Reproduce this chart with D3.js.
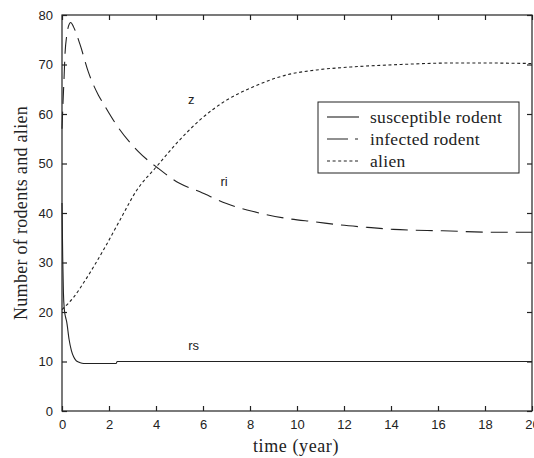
<!DOCTYPE html>
<html><head><meta charset="utf-8">
<script src="https://cdn.jsdelivr.net/npm/d3@7"></script>
<style>body{margin:0;background:#fff}svg{display:block}</style>
</head><body><svg id="c" width="534" height="458"></svg>
<script>
const xTicks = [0,2,4,6,8,10,12,14,16,18,20];
const yTicks = [0,10,20,30,40,50,60,70,80];
const rsTime = [0,0.03,0.06,0.1,0.15,0.2,0.3,0.4,0.5,0.6,0.7,0.85,1,1.5,2.3,2.35,3,5,8,12,16,20];
const rsVals = [42,31,24,20.5,19,18,14.5,12.2,10.9,10.2,9.9,9.65,9.6,9.6,9.6,10,10,10,10,10,10,10];
const riTime = [0,0.04,0.085,0.13,0.2,0.28,0.37,0.5,0.77,1.12,1.55,1.76,2.26,3.25,4.1,5,5.87,7,8.14,9.56,10.8,11.8,13,14.1,16.2,18.6,20];
const riVals = [57,62,67,72.3,75.8,77.8,78.5,77.5,74,68.5,63.8,62.1,58.2,52.4,49,46,44.3,41.9,40.3,38.9,38.2,37.6,37.1,36.7,36.4,36.1,36.1];
const zTime = [0,0.5,1,1.76,2.47,3.18,4.03,4.88,5.87,7,8.14,9.56,10.84,12.3,14.4,16.5,18,20];
const zVals = [20.5,23,26.5,32.5,38.6,44.6,49.4,54.1,58.8,62.8,65.5,67.9,68.9,69.5,70,70.3,70.3,70.2];
const seriesNames = ["susceptible rodent","infected rodent","alien"];
const curveLabels = ["rs","ri","z"];

const svg = d3.select("#c");
const L=62,R=532,T=15,B=411;
const x = d3.scaleLinear().domain([0,20]).range([L,R]);
const y = d3.scaleLinear().domain([0,80]).range([B,T]);
const ink="#222";
const g = svg.append("g");

g.append("rect").attr("x",L).attr("y",T).attr("width",R-L).attr("height",B-T)
 .attr("fill","none").attr("stroke",ink).attr("stroke-width",1.2);

const tickFont = "'Liberation Sans', Arial, sans-serif";
const xa = g.append("g").attr("transform",`translate(0,${B})`)
 .call(d3.axisBottom(x).tickValues(xTicks).tickSize(-5).tickPadding(9).tickFormat(d3.format("d")));
const xt = g.append("g").attr("transform",`translate(0,${T})`)
 .call(d3.axisTop(x).tickValues(xTicks).tickSize(-5).tickFormat(""));
const ya = g.append("g").attr("transform",`translate(${L},0)`)
 .call(d3.axisLeft(y).tickValues(yTicks).tickSize(-5).tickPadding(9).tickFormat(d3.format("d")));
const yr = g.append("g").attr("transform",`translate(${R},0)`)
 .call(d3.axisRight(y).tickValues(yTicks).tickSize(-5).tickFormat(""));
[xa,xt,ya,yr].forEach(a=>{
  a.select(".domain").remove();
  a.selectAll("line").attr("stroke",ink).attr("stroke-width",1.2);
  a.selectAll("text").attr("fill",ink).style("font-family",tickFont).style("font-size","13px");
});

const line = d3.line().x(d=>x(d[0])).y(d=>y(d[1])).curve(d3.curveMonotoneX);
const zip=(a,b)=>a.map((t,i)=>[t,b[i]]);
const series = [
  {data:zip(rsTime,rsVals),dash:null},
  {data:zip(riTime,riVals),dash:"17,8"},
  {data:zip(zTime,zVals),dash:"3,2.6"}
];
series.forEach(s=>{
  g.append("path").attr("d",line(s.data)).attr("fill","none").attr("stroke",ink)
   .attr("stroke-width",1.1).attr("stroke-dasharray",s.dash);
});

const lab=[[5.6,12.3,curveLabels[0]],[6.9,45.5,curveLabels[1]],[5.5,62,curveLabels[2]]];
lab.forEach(l=>{
  g.append("text").attr("x",x(l[0])).attr("y",y(l[1])).attr("text-anchor","middle")
   .style("font-family",tickFont).style("font-size","13px").attr("fill",ink).text(l[2]);
});

const serif="'Liberation Serif','Times New Roman',serif";
const lg=g.append("g");
lg.append("rect").attr("x",318).attr("y",102).attr("width",201).attr("height",71)
 .attr("fill","#fff").attr("stroke",ink).attr("stroke-width",1);
const rows=[117,139,161];
const legDash=[null,"21,7,3,20","3,2.6"];
seriesNames.forEach((n,i)=>{
  lg.append("line").attr("x1",327).attr("x2",359).attr("y1",rows[i]).attr("y2",rows[i])
   .attr("stroke",ink).attr("stroke-width",1.1).attr("stroke-dasharray",legDash[i]);
  lg.append("text").attr("x",370).attr("y",rows[i]).attr("dy","0.32em")
   .style("font-family",serif).style("font-size","17.5px").style("letter-spacing","0.3px")
   .attr("fill",ink).text(n);
});

g.append("text").attr("x",296).attr("y",446).attr("dy","0.32em").attr("text-anchor","middle")
 .style("font-family",serif).style("font-size","18px").style("letter-spacing","0.6px")
 .attr("fill",ink).text("time (year)");
g.append("text").attr("transform",`translate(21,${(T+B)/2}) rotate(-90)`).attr("dy","0.32em")
 .attr("text-anchor","middle").style("font-family",serif).style("font-size","18px")
 .style("letter-spacing","0.3px").attr("fill",ink)
 .text("Number of rodents and alien");
</script></body></html>
